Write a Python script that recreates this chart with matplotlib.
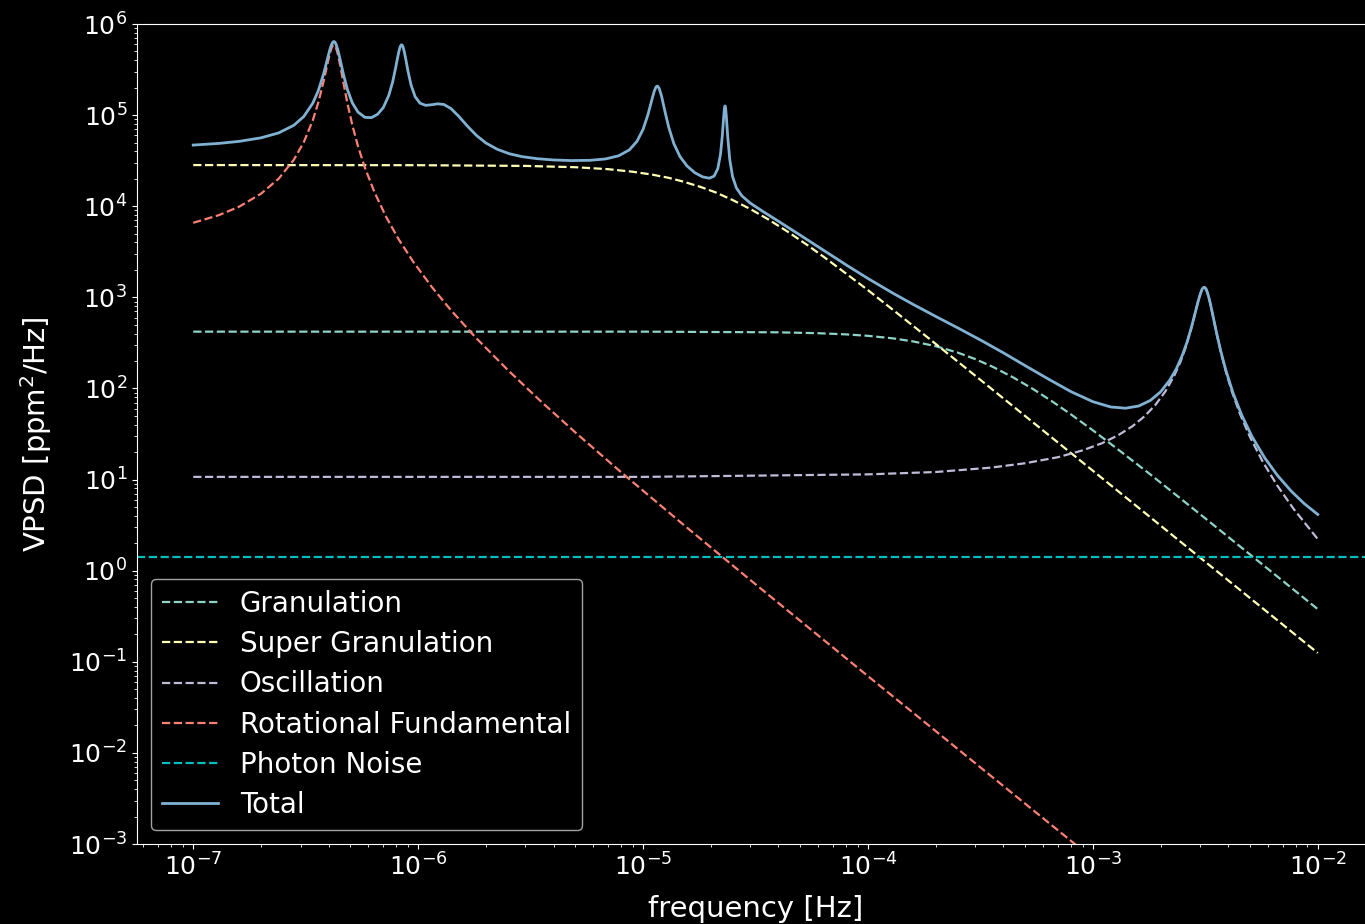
import matplotlib
matplotlib.use("Agg")
import matplotlib.pyplot as plt

# ---- values ----
F_GR = [1e-7, 1e-5, 4e-5, 6e-5, 8e-5, 1e-4, 1.3e-4, 1.6e-4, 2e-4, 2.5e-4, 3e-4, 3.6e-4, 4.4e-4,
        5.4e-4, 6.6e-4, 8e-4, 1e-3, 1.3e-3, 1.8e-3, 3e-3, 1e-2]
P_GR = [420, 420, 413, 404, 392, 378, 354, 327, 291, 248, 210, 172, 133, 99.1, 71.9, 51.8, 34.7,
        21.2, 11.4, 4.16, 0.378]

F_SG = [1e-7, 1e-6, 3e-6, 5e-6, 7e-6, 9e-6, 1.1e-5, 1.3e-5, 1.5e-5, 1.8e-5, 2.1e-5, 2.5e-5, 3e-5,
        3.6e-5, 4.4e-5, 5.4e-5, 6.6e-5, 8e-5, 1e-4, 1.3e-4, 1.8e-4, 3e-4, 1e-3, 1e-2]
P_SG = [2.83e4, 2.82e4, 2.77e4, 2.68e4, 2.55e4, 2.39e4, 2.22e4, 2.05e4, 1.87e4, 1.63e4, 1.42e4,
        1.17e4, 9.31e3, 7.18e3, 5.25e3, 3.72e3, 2.6e3, 1.82e3, 1.2e3, 720, 380, 138, 12.5, 0.125]

F_OSC = [1e-7, 1e-5, 1e-4, 2e-4, 3.5e-4, 5e-4, 7e-4, 9e-4, 1.1e-3, 1.3e-3, 1.5e-3, 1.7e-3, 1.9e-3,
         2.1e-3, 2.3e-3, 2.45e-3, 2.58e-3, 2.7e-3, 2.8e-3, 2.9e-3, 2.98e-3, 3.04e-3, 3.08e-3,
         3.11e-3, 3.125e-3, 3.14e-3, 3.17e-3, 3.21e-3, 3.27e-3, 3.35e-3, 3.45e-3, 3.57e-3, 3.72e-3,
         3.9e-3, 4.15e-3, 4.5e-3, 5e-3, 5.7e-3, 6.6e-3, 7.8e-3, 1e-2]
P_OSC = [10.7, 10.7, 11.4, 12.1, 13.5, 15.1, 17.6, 20.9, 25.1, 30.8, 38.5, 49.7, 66.3, 92.7, 138,
         195, 277, 400, 560, 793, 1.02e3, 1.18e3, 1.25e3, 1.28e3, 1.28e3, 1.28e3, 1.25e3, 1.18e3,
         1.02e3, 793, 560, 375, 241, 154, 92.7, 53.2, 29.2, 15.6, 8.63, 4.78, 2.22]

F_ROT = [1e-7, 1.3e-7, 1.6e-7, 2e-7, 2.4e-7, 2.8e-7, 3.1e-7, 3.4e-7, 3.6e-7, 3.8e-7, 3.95e-7,
         4.05e-7, 4.12e-7, 4.17e-7, 4.2e-7, 4.22e-7, 4.24e-7, 4.27e-7, 4.32e-7, 4.4e-7, 4.5e-7,
         4.65e-7, 4.85e-7, 5.1e-7, 5.4e-7, 5.8e-7, 6.4e-7, 7.2e-7, 8.2e-7, 9.5e-7, 1.15e-6, 1.4e-6,
         1.8e-6, 2.5e-6, 3.5e-6, 5e-6, 8e-6, 1.5e-5, 3e-5, 1e-4, 1e-3, 1e-2]
P_ROT = [6.58e3, 7.98e3, 9.88e3, 1.37e4, 2.01e4, 3.23e4, 5.03e4, 8.74e4, 1.38e5, 2.35e5, 3.63e5,
         4.73e5, 5.44e5, 5.78e5, 5.88e5, 5.9e5, 5.88e5, 5.78e5, 5.44e5, 4.62e5, 3.53e5, 2.29e5,
         1.34e5, 7.74e4, 4.57e4, 2.64e4, 1.42e4, 7.67e3, 4.32e3, 2.47e3, 1.3e3, 721, 363, 160, 72.8,
         32.9, 12, 3.25, 0.789, 0.0696, 0.000691, 6.9e-6]

PHOTON = 1.42

F_TOT = [1e-7, 1.3e-7, 1.6e-7, 2e-7, 2.4e-7, 2.8e-7, 3.1e-7, 3.4e-7, 3.6e-7, 3.8e-7, 3.95e-7, 4.05e-7,
         4.12e-7, 4.17e-7, 4.2e-7, 4.22e-7, 4.24e-7, 4.27e-7, 4.32e-7, 4.4e-7, 4.5e-7, 4.65e-7,
         4.85e-7, 5.1e-7, 5.4e-7, 5.8e-7, 6.2e-7, 6.6e-7, 7e-7, 7.4e-7, 7.7e-7, 7.95e-7, 8.1e-7,
         8.22e-7, 8.32e-7, 8.39e-7, 8.44e-7, 8.49e-7, 8.56e-7, 8.66e-7, 8.8e-7, 9e-7, 9.3e-7, 9.7e-7,
         1.02e-6, 1.08e-6, 1.15e-6, 1.22e-6, 1.3e-6, 1.4e-6, 1.52e-6, 1.66e-6, 1.82e-6, 2e-6, 2.25e-6,
         2.55e-6, 2.9e-6, 3.4e-6, 4e-6, 4.8e-6, 5.8e-6, 6.8e-6, 7.8e-6, 8.7e-6, 9.4e-6, 1e-5, 1.05e-5,
         1.09e-5, 1.12e-5, 1.14e-5, 1.15e-5, 1.157e-5, 1.165e-5, 1.18e-5, 1.21e-5, 1.25e-5, 1.3e-5,
         1.37e-5, 1.46e-5, 1.57e-5, 1.7e-5, 1.84e-5, 1.97e-5, 2.07e-5, 2.15e-5, 2.21e-5, 2.25e-5,
         2.28e-5, 2.3e-5, 2.31e-5, 2.315e-5, 2.32e-5, 2.33e-5, 2.35e-5, 2.38e-5, 2.43e-5, 2.5e-5,
         2.6e-5, 2.75e-5, 3e-5, 3.4e-5, 4e-5, 5e-5, 6.3e-5, 8e-5, 1e-4, 1.3e-4, 1.6e-4, 2e-4, 2.5e-4,
         3.2e-4, 4e-4, 5e-4, 6.3e-4, 8e-4, 1e-3, 1.2e-3, 1.4e-3, 1.6e-3, 1.8e-3, 2e-3, 2.2e-3,
         2.35e-3, 2.5e-3, 2.62e-3, 2.74e-3, 2.84e-3, 2.93e-3, 3e-3, 3.06e-3, 3.1e-3, 3.125e-3,
         3.15e-3, 3.19e-3, 3.25e-3, 3.33e-3, 3.43e-3, 3.55e-3, 3.7e-3, 3.9e-3, 4.2e-3, 4.6e-3, 5.1e-3,
         5.8e-3, 6.6e-3, 7.6e-3, 8.7e-3, 1e-2]
P_TOT = [4.69e4, 4.89e4, 5.15e4, 5.63e4, 6.38e4, 7.73e4, 9.64e4, 1.35e5, 1.86e5, 2.84e5, 4.13e5,
         5.24e5, 5.94e5, 6.29e5, 6.39e5, 6.42e5, 6.4e5, 6.29e5, 5.96e5, 5.15e5, 4.07e5, 2.83e5,
         1.9e5, 1.36e5, 1.08e5, 9.45e4, 9.38e4, 1.02e5, 1.21e5, 1.64e5, 2.3e5, 3.34e5, 4.25e5,
         5.05e5, 5.62e5, 5.86e5, 5.91e5, 5.87e5, 5.64e5, 5.09e5, 4.18e5, 3.09e5, 2.14e5, 1.59e5,
         1.35e5, 1.28e5, 1.3e5, 1.33e5, 1.31e5, 1.18e5, 9.63e4, 7.52e4, 5.96e4, 4.95e4, 4.21e4,
         3.76e4, 3.5e4, 3.32e4, 3.22e4, 3.17e4, 3.19e4, 3.3e4, 3.58e4, 4.16e4, 5.16e4, 6.97e4, 1e5,
         1.42e5, 1.81e5, 2.02e5, 2.07e5, 2.08e5, 2.06e5, 1.96e5, 1.6e5, 1.11e5, 7.39e4, 4.88e4,
         3.5e4, 2.76e4, 2.33e4, 2.1e4, 2.03e4, 2.14e4, 2.59e4, 3.72e4, 5.85e4, 9.15e4, 1.18e5,
         1.25e5, 1.26e5, 1.25e5, 1.17e5, 9.09e4, 5.74e4, 3.24e4, 2.12e4, 1.59e4, 1.3e4, 1.08e4,
         8.81e3, 6.84e3, 4.81e3, 3.32e3, 2.27e3, 1.61e3, 1.1e3, 828, 618, 464, 335, 246, 178, 128,
         92.1, 71.6, 62.6, 60.7, 64.2, 73.8, 91.7, 124, 164, 232, 320, 464, 651, 883, 1.08e3, 1.23e3,
         1.28e3, 1.29e3, 1.28e3, 1.23e3, 1.08e3, 853, 606, 405, 260, 159, 89.1, 50.3, 29.7, 17.4,
         11.2, 7.51, 5.45, 4.14]

SERIES = [
    (F_GR, P_GR, 'Granulation', '#8dd3c7'),
    (F_SG, P_SG, 'Super Granulation', '#feffb3'),
    (F_OSC, P_OSC, 'Oscillation', '#bfbbd9'),
    (F_ROT, P_ROT, 'Rotational Fundamental', '#fa8174'),
]

plt.style.use('dark_background')
fig = plt.figure(figsize=(13.65, 9.24), dpi=100)
ax = fig.add_axes([137 / 1365, 1 - 844 / 924, 1237 / 1365, 820 / 924])

for f, p, name, col in SERIES:
    ax.loglog(f, p, '--', color=col, lw=1.6, label=name)
ax.axhline(PHOTON, ls='--', color='c', lw=1.6, label='Photon Noise')
ax.loglog(F_TOT, P_TOT, color='#81b1d2', lw=2, label='Total')

ax.set_ylim(1e-3, 1e6)
ax.tick_params(labelsize=18)
ax.set_xlabel('frequency [Hz]', fontsize=21, labelpad=10)
ax.set_ylabel('VPSD [ppm$^2$/Hz]', fontsize=21, labelpad=11)
ax.legend(loc='lower left', fontsize=20, labelspacing=0.44)

fig.savefig('out.png', dpi=100)
